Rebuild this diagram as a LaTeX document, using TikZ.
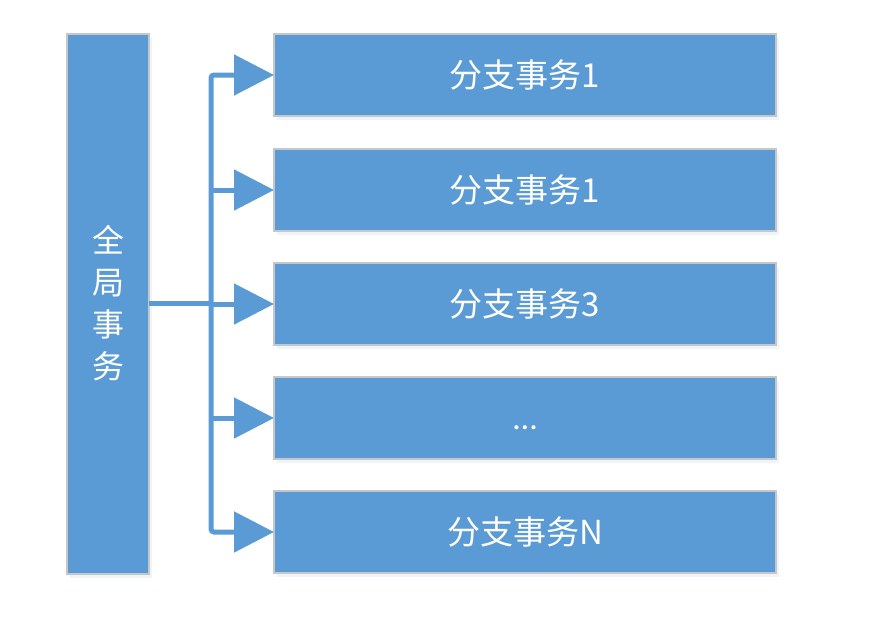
\documentclass[tikz,border=0pt]{standalone}
\usepackage{fontspec}
\setmainfont{Noto Sans CJK SC}
\newfontfamily\latinfont{Carlito}
\usetikzlibrary{arrows.meta,shadows}
\begin{document}
\begin{tikzpicture}[x=1pt,y=-1pt,
  box/.style={draw=black!22, line width=2pt, fill=blueA, text=white,
    font=\fontsize{33}{40}\selectfont, inner sep=0pt, outer sep=0pt,
    drop shadow={shadow xshift=3pt, shadow yshift=-4pt, fill=blueA!40, opacity=0.25}},
  conn/.style={draw=blueA, line width=5pt, rounded corners=3pt},
  tip/.style={-{Triangle[length=40pt,width=40pt]}}]
\definecolor{blueA}{HTML}{5B9BD5}
\path[use as bounding box] (0,0) rectangle (875,619);
\fill[white] (0,0) rectangle (875,619);
\node[box, minimum width=82pt, minimum height=540pt, align=center,
  font=\fontsize{32}{42}\selectfont] (L) at (108,303.5) {全\\局\\事\\务};
\node[box, minimum width=502pt, minimum height=82pt] (b1) at (525,75) {分支事务1};
\node[box, minimum width=502pt, minimum height=82pt] (b2) at (525,190) {分支事务1};
\node[box, minimum width=502pt, minimum height=82pt] (b3) at (525,304) {分支事务3};
\node[box, minimum width=502pt, minimum height=82pt] (b4) at (525,418) {\latinfont\fontsize{34}{40}\selectfont\smash{\raisebox{-11pt}{…}}};
\node[box, minimum width=502pt, minimum height=82pt] (b5) at (525,532) {分支事务N};
\coordinate (T) at (211,304);
\draw[conn] (L.east) -- (L.east -| T);
\draw[conn, {Triangle[length=40pt,width=40pt]}-{Triangle[length=40pt,width=40pt]}]
  (b1.west) -- (b1.west -| T) -- (b5.west -| T) -- (b5.west);
\draw[conn, tip] (b2.west -| T) -- (b2.west);
\draw[conn, tip] (b3.west -| T) -- (b3.west);
\draw[conn, tip] (b4.west -| T) -- (b4.west);
\end{tikzpicture}
\end{document}
